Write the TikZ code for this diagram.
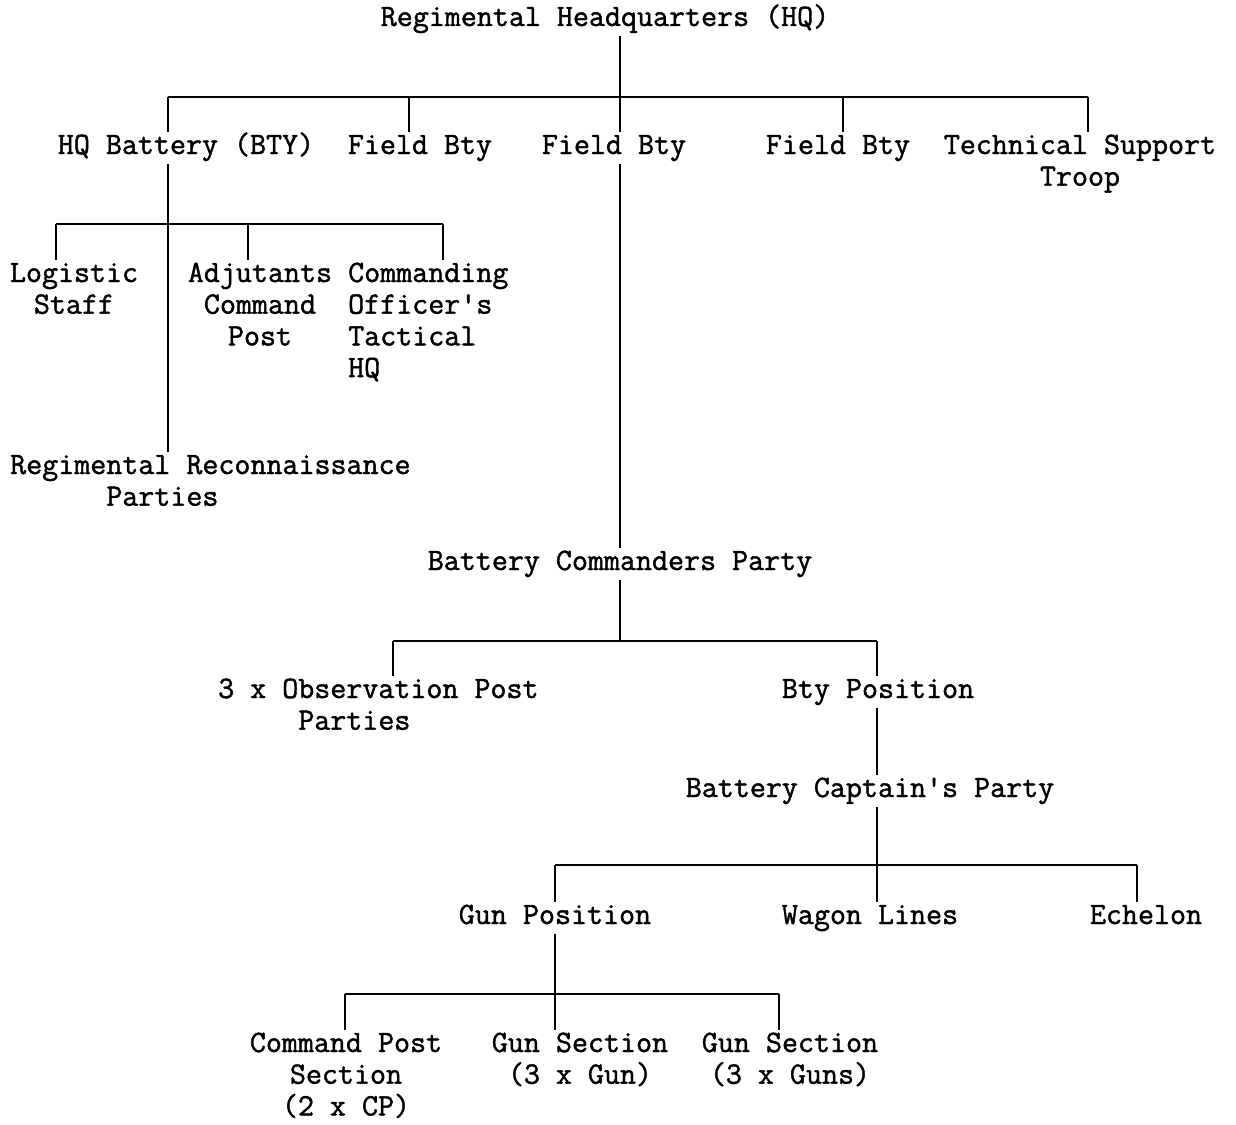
\documentclass[tikz,border=0pt]{standalone}
\usepackage{fontspec}
\newfontfamily\heavytt{Latin Modern Mono}[FakeBold=1.4]
\newcommand\mytab[2]{\begin{tabular}[t]{@{}#1@{}}#2\end{tabular}}
\begin{document}
\begin{tikzpicture}[x=1pt,y=-1pt,
  lbl/.style={inner sep=0pt, anchor=base, font=\heavytt\fontsize{31.1}{31.7}\selectfont},
  lblw/.style={lbl, anchor=base west},
  ln/.style={line width=1.8pt, line cap=butt}]
\useasboundingbox[fill=white] (0,0) rectangle (1236,1124);

% labels
\node[lbl] (hq) at (605,26) {\mytab{c}{Regimental Headquarters (HQ)}};
\node[lbl] (hqb) at (186,154) {\mytab{c}{HQ Battery (BTY)}};
\node[lbl] (fb1) at (420,154) {\mytab{c}{Field Bty}};
\node[lbl] (fb2) at (614,154) {\mytab{c}{Field Bty}};
\node[lbl] (fb3) at (838,154) {\mytab{c}{Field Bty}};
\node[lbl] (tst) at (1080,154) {\mytab{c}{Technical Support\\Troop}};
\node[lbl] (log) at (74,282) {\mytab{c}{Logistic\\Staff}};
\node[lbl] (adj) at (260,282) {\mytab{c}{Adjutants\\Command\\Post}};
\node[lblw] (cmd) at (348,282) {\mytab{l}{Commanding\\Officer's\\Tactical\\HQ}};
\node[lblw] (rrp) at (10,474) {\mytab{l}{Regimental Reconnaissance\\\phantom{xxxxxx}Parties}};
\node[lbl] (bcp) at (620,570) {\mytab{c}{Battery Commanders Party}};
\node[lblw] (obs) at (218,698) {\mytab{l}{3 x Observation Post\\\phantom{xxxxx}Parties}};
\node[lbl] (btyp) at (878,698) {\mytab{c}{Bty Position}};
\node[lbl] (bcap) at (870,797) {\mytab{c}{Battery Captain's Party}};
\node[lbl] (gunp) at (555,924) {\mytab{c}{Gun Position}};
\node[lbl] (wag) at (870,924) {\mytab{c}{Wagon Lines}};
\node[lbl] (ech) at (1146,924) {\mytab{c}{Echelon}};
\node[lbl] (cps) at (346,1052) {\mytab{c}{Command Post\\Section\\(2 x CP)}};
\node[lbl] (gs1) at (580,1052) {\mytab{c}{Gun Section\\(3 x Gun)}};
\node[lbl] (gs2) at (790,1052) {\mytab{c}{Gun Section\\(3 x Guns)}};

% junction coordinates
\coordinate (b1L) at (168,97);
\coordinate (b1a) at (409,97);
\coordinate (b1c) at (620,97);
\coordinate (b1b) at (843,97);
\coordinate (b1R) at (1088,97);
\coordinate (b2L) at (56,224);
\coordinate (b2c) at (168,224);
\coordinate (b2a) at (248,224);
\coordinate (b2R) at (443,224);
\coordinate (b3L) at (393,641);
\coordinate (b3c) at (620,641);
\coordinate (b3R) at (877,641);
\coordinate (b4L) at (555,865);
\coordinate (b4c) at (877,865);
\coordinate (b4R) at (1137,865);
\coordinate (b5L) at (345,994);
\coordinate (b5c) at (555,994);
\coordinate (b5R) at (779,994);

% level 1
\draw[ln] (b1L) -- (b1R);
\draw[ln] (hq.south -| b1c) -- (fb2.north -| b1c);
\draw[ln] (b1L) -- (hqb.north -| b1L);
\draw[ln] (b1a) -- (fb1.north -| b1a);
\draw[ln] (b1b) -- (fb3.north -| b1b);
\draw[ln] (b1R) -- (tst.north -| b1R);

% HQ battery
\draw[ln] (hqb.south -| b2c) -- (rrp.north -| b2c);
\draw[ln] (b2L) -- (b2R);
\draw[ln] (b2L) -- (log.north -| b2L);
\draw[ln] (b2a) -- (adj.north -| b2a);
\draw[ln] (b2R) -- (cmd.north -| b2R);

% field battery
\draw[ln] (fb2.south -| b1c) -- (bcp.north -| b1c);
\draw[ln] (bcp.south -| b3c) -- (b3c);
\draw[ln] (b3L) -- (b3R);
\draw[ln] (b3L) -- (obs.north -| b3L);
\draw[ln] (b3R) -- (btyp.north -| b3R);
\draw[ln] (btyp.south -| b3R) -- (bcap.north -| b3R);

% battery captain
\draw[ln] (bcap.south -| b4c) -- (wag.north -| b4c);
\draw[ln] (b4L) -- (b4R);
\draw[ln] (b4L) -- (gunp.north -| b4L);
\draw[ln] (b4R) -- (ech.north -| b4R);

% gun position
\draw[ln] (gunp.south -| b5c) -- (gs1.north -| b5c);
\draw[ln] (b5L) -- (b5R);
\draw[ln] (b5L) -- (cps.north -| b5L);
\draw[ln] (b5R) -- (gs2.north -| b5R);
\end{tikzpicture}
\end{document}
